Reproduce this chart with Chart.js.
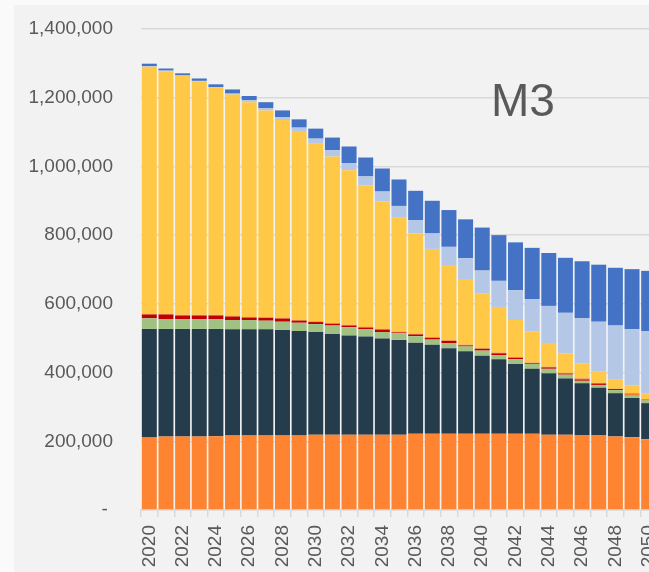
<!DOCTYPE html>
<html><head><meta charset="utf-8">
<script src="https://cdn.jsdelivr.net/npm/chart.js@4"></script>
<style>
html,body{margin:0;padding:0;overflow:hidden;background:#fafafa;width:649px;height:572px;}
#bg{position:absolute;left:14px;top:5px;width:635px;height:567px;background:#f2f2f2;}
#wrap{position:absolute;left:0;top:0;width:657px;height:572px;}
#title{position:absolute;left:491px;top:77px;font-family:"Liberation Sans",Arial,sans-serif;font-size:46px;line-height:46px;color:#595959;white-space:nowrap;}
</style></head><body>
<div id="bg"></div>
<div id="wrap"><canvas id="c"></canvas></div>
<div id="title">M3</div>
<script>
const years = ["2020","2021","2022","2023","2024","2025","2026","2027","2028","2029","2030","2031","2032","2033","2034","2035","2036","2037","2038","2039","2040","2041","2042","2043","2044","2045","2046","2047","2048","2049","2050"];

const seriesOrange = [211000,214000,214000,214000,215000,217000,217000,217000,217000,217000,219000,219000,219000,219000,219000,219000,222000,222000,222000,222000,222000,222000,222000,222000,219000,219000,217000,217000,214000,212000,206000];
const seriesNavy = [316000,313000,313000,313000,312000,309000,309000,309000,307000,304000,299000,293000,289000,286000,280000,276000,265000,259000,249000,240000,227000,217000,203000,189000,179000,164000,152000,139000,126000,114000,105000];
const seriesGreen = [31000,29000,29000,29000,29000,27000,27000,25000,24000,24000,23000,25000,24000,21000,19000,20000,19000,15000,15000,14000,15000,12000,14000,14000,13000,11000,7000,8000,9000,7000,8000];
const seriesRed = [11000,13000,10000,10000,10000,10000,7000,8000,9000,6000,6000,5000,5000,5000,7000,2000,5000,5000,6000,3000,5000,5000,4000,2000,4000,3000,4000,4000,3000,1000,2000];
const seriesAmber = [2000,2000,2000,2000,2000,2000,2000,2000,2000,2000,2000,2000,2000,2000,2000,2000,2000,2000,2000,2000,2000,2000,2000,2000,2000,2000,3000,2000,1000,6000,1000];
const seriesYellow = [719000,706000,695000,679000,661000,644000,625000,602000,576000,550000,517000,485000,450000,411000,372000,332000,292000,257000,219000,191000,160000,133000,108000,90000,69000,57000,44000,34000,26000,22000,18000];
const seriesLightBlue = [2000,2000,2000,2000,2000,3000,6000,7000,8000,10000,15000,18000,21000,27000,28000,34000,39000,45000,53000,61000,66000,76000,87000,95000,108000,118000,131000,144000,158000,164000,181000];
const seriesBlue = [7000,6000,6000,7000,8000,12000,12000,17000,20000,24000,29000,37000,48000,55000,67000,77000,85000,95000,107000,113000,125000,133000,139000,149000,154000,160000,166000,166000,168000,175000,175000];

const yTicks = [0,200000,400000,600000,800000,1000000,1200000,1400000];

const FONT = '"Liberation Sans", Arial, sans-serif';
const TXT = '#595959';
const GRID = '#d9d9d9';

function ds(label, data, color){
  return {label, data, backgroundColor: color, borderWidth: 0, barPercentage: 0.9, categoryPercentage: 1.0};
}

new Chart(document.getElementById('c'), {
  type: 'bar',
  data: {
    labels: years,
    datasets: [
      ds('Orange', seriesOrange, '#FE8431'),
      ds('Navy', seriesNavy, '#253C4C'),
      ds('Green', seriesGreen, '#A0C182'),
      ds('Red', seriesRed, '#C00000'),
      ds('Amber', seriesAmber, '#ED7D31'),
      ds('Yellow', seriesYellow, '#FFC947'),
      ds('LightBlue', seriesLightBlue, '#B4C7E7'),
      ds('Blue', seriesBlue, '#4472C4')
    ]
  },
  options: {
    responsive: true,
    maintainAspectRatio: false,
    animation: false,
    layout: {padding: {top: 29, left: 0, right: 0, bottom: 0}},
    plugins: {legend: {display: false}, tooltip: {enabled: false}},
    scales: {
      x: {
        stacked: true,
        offset: true,
        grid: {display: true, drawOnChartArea: false, drawTicks: true, tickLength: 7, color: GRID, lineWidth: 1.5, offset: true},
        border: {display: true, color: GRID, width: 1.5},
        ticks: {
          autoSkip: false, maxRotation: 90, minRotation: 90, padding: 8,
          color: TXT, font: {family: FONT, size: 19},
          callback: function(v, i){ return i % 2 === 0 ? years[i] : ''; }
        },
        afterFit: function(s){ s.height = 62; s.paddingLeft = 0; s.paddingRight = 0; }
      },
      y: {
        stacked: true,
        min: yTicks[0],
        max: yTicks[yTicks.length-1],
        grid: {color: GRID, drawTicks: false, lineWidth: 1.5},
        border: {display: false},
        ticks: {
          stepSize: 200000, padding: 28, color: TXT, font: {family: FONT, size: 19},
          callback: function(v){ return v === 0 ? '- ' : Number(v).toLocaleString('en-US'); }
        },
        afterFit: function(s){ s.width = 141; s.paddingTop = 0; s.paddingBottom = 0; }
      }
    }
  }
});
</script>
</body></html>
